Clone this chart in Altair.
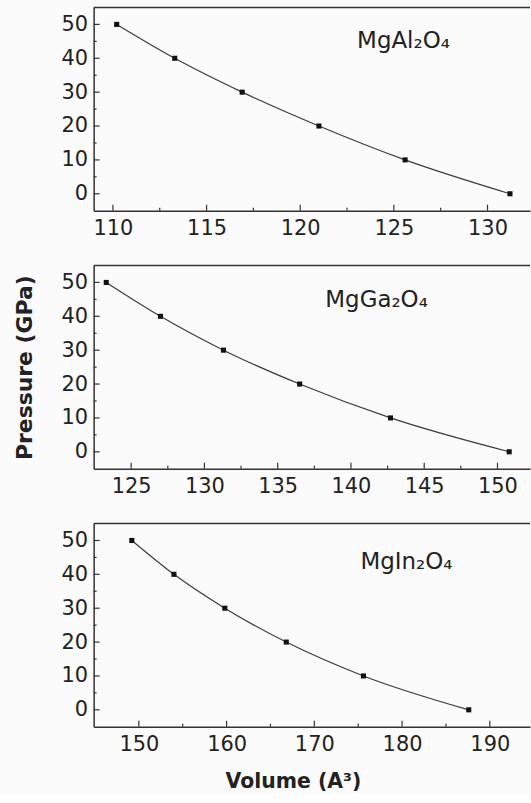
import altair as alt
import pandas as pd

# ---- data ----
pressure = [50, 40, 30, 20, 10, 0]
vol_al = [110.2, 113.3, 116.9, 121.0, 125.6, 131.2]
vol_ga = [123.3, 127.0, 131.3, 136.5, 142.7, 150.8]
vol_in = [149.2, 154.0, 159.8, 166.8, 175.6, 187.6]
names = ["MgAl₂O₄", "MgGa₂O₄", "MgIn₂O₄"]

x_domains = [[108.97, 132.27], [122.44, 152.22], [144.85, 194.58]]
x_major = [[110, 115, 120, 125, 130],
           [125, 130, 135, 140, 145, 150],
           [150, 160, 170, 180, 190]]
x_minor = [[112.5, 117.5, 122.5, 127.5],
           [127.5, 132.5, 137.5, 142.5, 147.5],
           [155, 165, 175, 185]]
y_major = [0, 10, 20, 30, 40, 50]
y_minor = [5, 15, 25, 35, 45]
y_domain = [-5, 55]

# ---- layout constants ----
W, H = 438, 204
label_xy = [(311, 34), (284, 35), (314, 39)]
TXT = "#222222"
AX = "#333333"
FONT = "DejaVu Sans"


def panel(i, vols):
    df = pd.DataFrame({"V": vols, "P": pressure})
    xs = alt.Scale(domain=x_domains[i], nice=False, zero=False)
    ys = alt.Scale(domain=y_domain, nice=False, zero=False)

    xaxis_kw = dict(values=x_major[i], ticks=False, tickSize=0, grid=False,
                    labelPadding=7, domainColor=AX, domainWidth=1.5,
                    labelFont=FONT, labelFontSize=21, labelColor=TXT)
    yaxis_kw = dict(values=y_major, ticks=False, tickSize=0, grid=False,
                    labelPadding=6, domainColor=AX, domainWidth=1.5,
                    labelFont=FONT, labelFontSize=21, labelColor=TXT)
    if i == 2:
        xaxis = alt.Axis(title="Volume (A³)", titleFont=FONT, titleFontSize=20.5,
                         titleFontWeight="bold", titleColor=TXT,
                         titleX=200, titleY=55, titleAlign="center",
                         titleBaseline="middle", titleAngle=0, **xaxis_kw)
        xtitle = "Volume (A³)"
    else:
        xaxis = alt.Axis(title="", **xaxis_kw)
        xtitle = ""
    if i == 1:
        yaxis = alt.Axis(title="Pressure (GPa)", titleFont=FONT, titleFontSize=22,
                         titleFontWeight="bold", titleColor=TXT,
                         titleX=-69, titleY=H / 2, titleAlign="center",
                         titleBaseline="middle", titleAngle=-90, **yaxis_kw)
        ytitle = "Pressure (GPa)"
    else:
        yaxis = alt.Axis(title="", **yaxis_kw)
        ytitle = ""

    def X(f):
        return alt.X(f, scale=xs, axis=xaxis, title=xtitle)

    def Y(f):
        return alt.Y(f, scale=ys, axis=yaxis, title=ytitle)

    base = alt.Chart(df)
    line = base.mark_line(interpolate="monotone", color="#3c3c3c", strokeWidth=1.2).encode(
        x=X("V:Q"), y=Y("P:Q"))
    pts = base.mark_square(size=26, color="#111111", opacity=1).encode(
        x=X("V:Q"), y=Y("P:Q"))
    xmaj = alt.Chart(pd.DataFrame({"t": x_major[i]})).mark_rule(color=AX, strokeWidth=1.2).encode(
        x=X("t:Q"), y=alt.value(H), y2=alt.value(H - 6))
    xmin = alt.Chart(pd.DataFrame({"t": x_minor[i]})).mark_rule(color=AX, strokeWidth=1.2).encode(
        x=X("t:Q"), y=alt.value(H), y2=alt.value(H - 3))
    ymaj = alt.Chart(pd.DataFrame({"t": y_major})).mark_rule(color=AX, strokeWidth=1.2).encode(
        y=Y("t:Q"), x=alt.value(0), x2=alt.value(6))
    ymin = alt.Chart(pd.DataFrame({"t": y_minor})).mark_rule(color=AX, strokeWidth=1.2).encode(
        y=Y("t:Q"), x=alt.value(0), x2=alt.value(3))
    top = alt.Chart(pd.DataFrame({"a": [0]})).mark_rule(color=AX, strokeWidth=1.5).encode(
        x=alt.value(0), x2=alt.value(W), y=alt.value(0))
    lx, ly = label_xy[i]
    lab = alt.Chart(pd.DataFrame({"name": [names[i]]})).mark_text(
        font=FONT, fontSize=23, color=TXT, align="center", baseline="middle"
    ).encode(text="name:N", x=alt.value(lx), y=alt.value(ly))

    return alt.layer(line, pts, xmaj, xmin, ymaj, ymin, top, lab).properties(width=W, height=H)


chart = alt.vconcat(
    panel(0, vol_al), panel(1, vol_ga), panel(2, vol_in),
    spacing=55, bounds="flush"
).properties(
    background="#fbfbfb",
    padding={"left": 13, "top": 5, "right": 0, "bottom": 0},
).configure_view(strokeWidth=0, stroke="transparent")

chart.save("out.html", embed_options={"renderer": "svg", "actions": False})
